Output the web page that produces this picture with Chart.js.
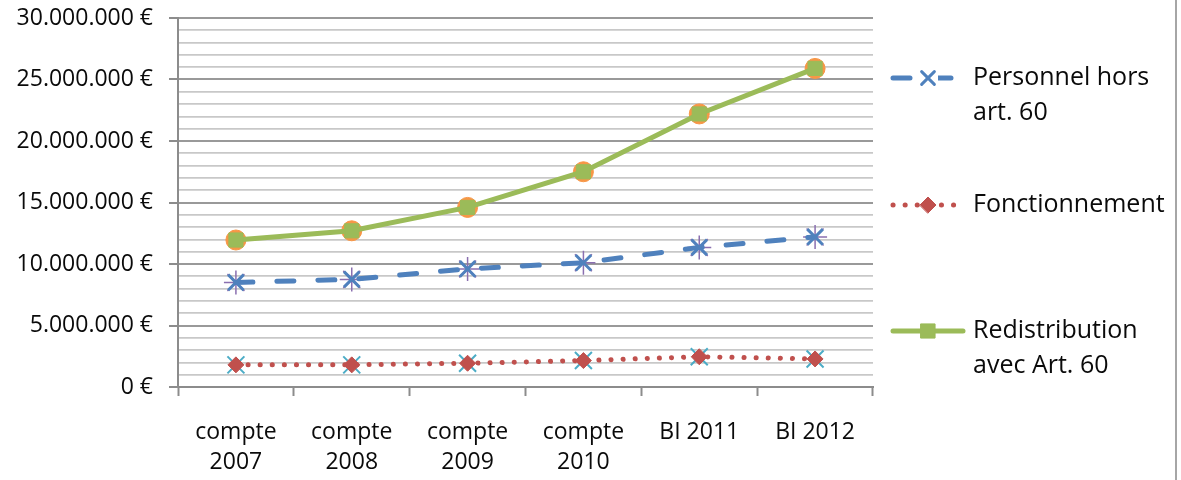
<!DOCTYPE html>
<html>
<head>
<meta charset="utf-8">
<script src="https://cdn.jsdelivr.net/npm/chart.js@4.4.1/dist/chart.umd.min.js"></script>
<style>
  html, body { margin: 0; padding: 0; background: #ffffff; }
  #wrap { position: relative; width: 1181px; height: 480px; }
  #frame { position: absolute; left: 1175px; top: 0; width: 2px; height: 480px; background: #a6a6a6; }
</style>
</head>
<body>
<div id="wrap">
  <canvas id="c" width="1181" height="480"></canvas>
  <div id="frame"></div>
</div>
<script>
// Budget par poste, en euros
const categories = [['compte', '2007'], ['compte', '2008'], ['compte', '2009'], ['compte', '2010'], 'BI 2011', 'BI 2012'];
const personnel = [8500000, 8750000, 9600000, 10100000, 11350000, 12200000];
const fonctionnement = [1800000, 1800000, 1930000, 2150000, 2460000, 2280000];
const redistribution = [11950000, 12700000, 14600000, 17500000, 22200000, 25900000];
const seriesLabels = [['Personnel hors', 'art. 60'], ['Fonctionnement'], ['Redistribution', 'avec Art. 60']];
const yMax = 30000000;
const yMajorStep = 5000000;
const yMinorStep = 1000000;

const FONT = '"Open Sans", "DejaVu Sans", sans-serif';

function euro(v) {
  return String(Math.round(v)).replace(/\B(?=(\d{3})+(?!\d))/g, '.') + ' €';
}
const isMajor = (v) => v % yMajorStep === 0;

// Main series (drawn on top)
const mainSets = [
  {
    label: seriesLabels[0].join(' '),
    data: personnel,
    borderColor: '#4F81BD',
    backgroundColor: '#4F81BD',
    borderWidth: 5,
    borderDash: [17, 24],
    borderCapStyle: 'round',
    pointStyle: 'crossRot',
    pointRadius: 11,
    pointBorderWidth: 3,
    pointBorderColor: '#4F81BD',
    order: 0
  },
  {
    label: seriesLabels[1].join(' '),
    data: fonctionnement,
    borderColor: '#C0504D',
    backgroundColor: '#C0504D',
    borderWidth: 5,
    borderDash: [0.1, 12],
    borderCapStyle: 'round',
    pointStyle: 'rectRot',
    pointRadius: 8,
    pointBorderWidth: 1,
    pointBorderColor: '#C0504D',
    pointBackgroundColor: '#C0504D',
    order: 0
  },
  {
    label: seriesLabels[2].join(' '),
    data: redistribution,
    borderColor: '#9BBB59',
    backgroundColor: '#9BBB59',
    borderWidth: 5,
    borderCapStyle: 'round',
    pointStyle: 'rect',
    pointRadius: 10,
    pointBorderWidth: 1,
    pointBorderColor: '#9BBB59',
    pointBackgroundColor: '#9BBB59',
    order: 0
  }
];

// Companion marker-only series sitting under the main markers
const markerSets = [
  {
    label: 'marqueurs personnel',
    data: personnel,
    showLine: false,
    pointStyle: 'star',
    pointRadius: 12,
    pointBorderWidth: 1.5,
    pointBorderColor: '#8a6fb0',
    pointBackgroundColor: '#8a6fb0',
    order: 1
  },
  {
    label: 'marqueurs fonctionnement',
    data: fonctionnement,
    showLine: false,
    pointStyle: 'crossRot',
    pointRadius: 12,
    pointBorderWidth: 2,
    pointBorderColor: '#4BACC6',
    pointBackgroundColor: '#4BACC6',
    order: 1
  },
  {
    label: 'marqueurs redistribution',
    data: redistribution,
    showLine: false,
    pointStyle: 'circle',
    pointRadius: 10,
    pointBorderWidth: 1,
    pointBorderColor: '#F79646',
    pointBackgroundColor: '#F79646',
    order: 1
  }
];

// Legend on the right with wrapped labels
const sideLegend = {
  id: 'sideLegend',
  afterDraw(chart) {
    const ctx = chart.ctx;
    const lineStart = 893, lineEnd = 963, textX = 973;
    const rows = [78, 205, 331];
    const lineGap = 35;
    mainSets.forEach((ds, i) => {
      const y = rows[i];
      ctx.save();
      ctx.strokeStyle = ds.borderColor;
      ctx.lineWidth = ds.borderWidth;
      ctx.lineCap = ds.borderCapStyle || 'butt';
      ctx.setLineDash(ds.borderDash || []);
      ctx.beginPath();
      ctx.moveTo(lineStart, y);
      ctx.lineTo(lineEnd, y);
      ctx.stroke();
      ctx.setLineDash([]);
      ctx.fillStyle = ds.pointBackgroundColor || ds.borderColor;
      ctx.strokeStyle = ds.pointBorderColor || ds.borderColor;
      ctx.lineWidth = ds.pointBorderWidth;
      const mid = (lineStart + lineEnd) / 2;
      if (ds.pointStyle === 'crossRot') {
        // clear a gap around the cross
        ctx.fillStyle = '#ffffff';
        ctx.fillRect(mid - 10, y - 4, 20, 8);
      }
      Chart.helpers.drawPoint(ctx, {
        pointStyle: ds.pointStyle,
        radius: ds.pointStyle === 'crossRot' ? 9 : ds.pointRadius,
        rotation: 0,
        borderWidth: ds.pointBorderWidth
      }, mid, y);
      ctx.fillStyle = '#0a0a0a';
      ctx.font = '25px ' + FONT;
      ctx.textBaseline = 'middle';
      ctx.textAlign = 'left';
      seriesLabels[i].forEach((t, k) => ctx.fillText(t, textX, y + k * lineGap));
      ctx.restore();
    });
  }
};

new Chart(document.getElementById('c'), {
  type: 'line',
  data: {
    labels: categories,
    datasets: [...mainSets, ...markerSets]
  },
  plugins: [sideLegend],
  options: {
    responsive: false,
    animation: false,
    devicePixelRatio: 1,
    layout: { padding: { top: 18, right: 308, left: 0, bottom: 0 } },
    plugins: {
      legend: { display: false },
      tooltip: { enabled: false }
    },
    elements: { line: { tension: 0 } },
    scales: {
      x: {
        offset: true,
        grid: {
          display: true,
          offset: true,
          drawOnChartArea: false,
          drawTicks: true,
          tickLength: 9,
          tickColor: '#8c8c8c',
          tickWidth: 2
        },
        border: { color: '#8c8c8c', width: 2 },
        ticks: {
          color: '#0a0a0a',
          font: { family: FONT, size: 23, lineHeight: 1.3 },
          padding: 22,
          maxRotation: 0,
          autoSkip: false
        },
        afterFit(scale) { scale.height = 93; }
      },
      y: {
        min: 0,
        max: yMax,
        ticks: {
          stepSize: yMinorStep,
          autoSkip: false,
          color: '#0a0a0a',
          font: { family: FONT, size: 23 },
          padding: 16,
          callback: (v) => isMajor(v) ? euro(v) : ''
        },
        grid: {
          color: (c) => (c.tick && isMajor(c.tick.value)) ? '#999999' : '#c8c8c8',
          lineWidth: (c) => (c.tick && isMajor(c.tick.value)) ? 2 : 1.8,
          tickLength: 9,
          tickWidth: 2,
          tickColor: (c) => (c.tick && isMajor(c.tick.value)) ? '#8c8c8c' : 'rgba(0,0,0,0)'
        },
        border: { color: '#8c8c8c', width: 2 },
        afterFit(scale) {
          scale.width = 178;
          scale.paddingTop = 0;
          scale.paddingBottom = 0;
        }
      }
    }
  }
});
</script>
</body>
</html>
